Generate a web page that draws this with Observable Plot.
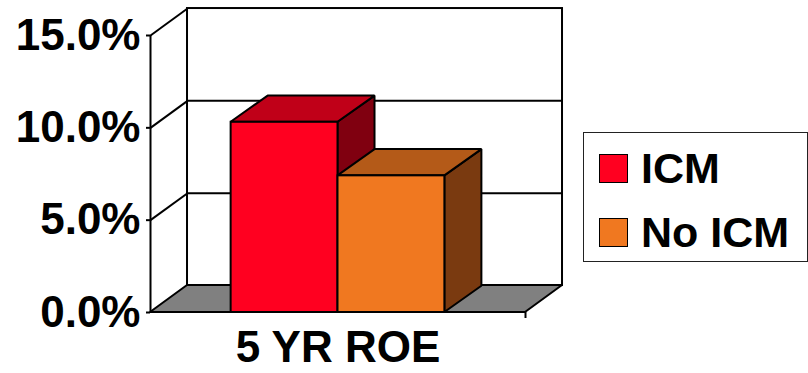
<!DOCTYPE html>
<html>
<head>
<meta charset="utf-8">
<script src="https://cdn.jsdelivr.net/npm/d3@7"></script>
<script src="https://cdn.jsdelivr.net/npm/@observablehq/plot@0.6"></script>
<style>
  html, body { margin: 0; padding: 0; background: #fff; }
  #wrap { position: relative; width: 808px; height: 373px; overflow: hidden; font-family: "Liberation Sans", Arial, sans-serif; }
  .lg-box { position: absolute; box-sizing: border-box; border: 1.5px solid #222; background: #fff; }
  .lg-sw { position: absolute; box-sizing: border-box; border: 1.5px solid #000; }
  .lg-tx { position: absolute; font-size: 43px; font-weight: bold; line-height: 43px; color: #000; white-space: nowrap; }
</style>
</head>
<body>
<div id="wrap"></div>
<script>
// ---- data ----
const categories = ["5 YR ROE"];
const series = ["ICM", "No ICM"];
const values = [10.3, 7.4];          // percent
const yTicks = [0, 5, 10, 15];

// ---- styles ----
const frontColors = ["#ff0020", "#f07820"];
const topColors   = ["#c00018", "#b45a18"];
const sideColors  = ["#800010", "#7a3a10"];
const floorColor  = "#808080";
const font = "Liberation Sans, Arial, sans-serif";

// layout (in scale units): floor spans x 0..1, depth offsets
const barW = 0.285;
const gap = (1 - series.length * barW) / 2;
const depthX = 0.0987;
const depthY = 1.46;   // floor / wall depth in percent units
const barDepthY = 1.42;
const yMax = yTicks[yTicks.length - 1];

const marks = [];

// back wall
marks.push(Plot.rect([0], {x1: depthX, x2: 1 + depthX, y1: depthY, y2: yMax + depthY,
  fill: "#fff", stroke: "#000", strokeWidth: 2}));
// back wall gridlines
marks.push(Plot.ruleY(yTicks.slice(1, -1), {y: d => d + depthY, x1: depthX, x2: 1 + depthX,
  stroke: "#000", strokeWidth: 2}));
// side wall diagonals
marks.push(Plot.link(yTicks.slice(1), {x1: 0, y1: d => d, x2: depthX, y2: d => d + depthY,
  stroke: "#000", strokeWidth: 2}));
// left front edge
marks.push(Plot.ruleX([0], {y1: 0, y2: yMax, stroke: "#000", strokeWidth: 2}));
// floor
marks.push(Plot.areaX([{y: 0, x1: 0, x2: 1}, {y: depthY, x1: depthX, x2: 1 + depthX}],
  {y: "y", x1: "x1", x2: "x2", fill: floorColor, stroke: "#000", strokeWidth: 2, strokeLinejoin: "miter"}));

// bars
series.forEach((s, i) => {
  const v = values[i];
  const x1 = gap + i * barW, x2 = x1 + barW;
  marks.push(Plot.areaY([{x: x2, y1: 0, y2: v}, {x: x2 + depthX, y1: barDepthY, y2: v + barDepthY}],
    {x: "x", y1: "y1", y2: "y2", fill: sideColors[i], stroke: "#000", strokeWidth: 2, strokeLinejoin: "miter"}));
  marks.push(Plot.areaX([{y: v, x1: x1, x2: x2}, {y: v + barDepthY, x1: x1 + depthX, x2: x2 + depthX}],
    {y: "y", x1: "x1", x2: "x2", fill: topColors[i], stroke: "#000", strokeWidth: 2, strokeLinejoin: "miter"}));
  marks.push(Plot.rect([v], {x1: x1, x2: x2, y1: 0, y2: d => d,
    fill: frontColors[i], stroke: "#000", strokeWidth: 2}));
});

// axes
marks.push(Plot.axisY(yTicks, {tickFormat: d => d.toFixed(1) + "%", tickSize: 4, tickPadding: 6,
  fontSize: 44, fontWeight: "bold", fontFamily: font, strokeWidth: 2}));
marks.push(Plot.axisX([1], {tickFormat: () => "", tickSize: 6, strokeWidth: 2}));
marks.push(Plot.text(categories, {x: 0.5, y: 0, text: d => d, dy: 35, lineAnchor: "middle",
  fontSize: 44, fontWeight: "bold", fontFamily: font, fill: "#000"}));

const chart = Plot.plot({
  width: 808,
  height: 373,
  marginLeft: 150,
  marginRight: 283,
  marginTop: 35,
  marginBottom: 61,
  x: {domain: [0, 1], axis: null},
  y: {domain: [0, yMax], axis: null},
  style: {fontFamily: font, background: "#fff", color: "#000", overflow: "visible"},
  marks
});

const wrap = document.getElementById("wrap");
wrap.appendChild(chart);

// legend (HTML overlay on the right)
const box = document.createElement("div");
box.className = "lg-box";
Object.assign(box.style, {left: "583px", top: "132px", width: "225px", height: "130px"});
wrap.appendChild(box);
const swTops = [154, 218];
const txTops = [147, 211];
series.forEach((s, i) => {
  const sw = document.createElement("div");
  sw.className = "lg-sw";
  Object.assign(sw.style, {left: "599px", top: swTops[i] + "px", width: "29px", height: "29px", background: frontColors[i]});
  wrap.appendChild(sw);
  const tx = document.createElement("div");
  tx.className = "lg-tx";
  tx.textContent = s;
  Object.assign(tx.style, {left: "641px", top: txTops[i] + "px"});
  wrap.appendChild(tx);
});
</script>
</body>
</html>
